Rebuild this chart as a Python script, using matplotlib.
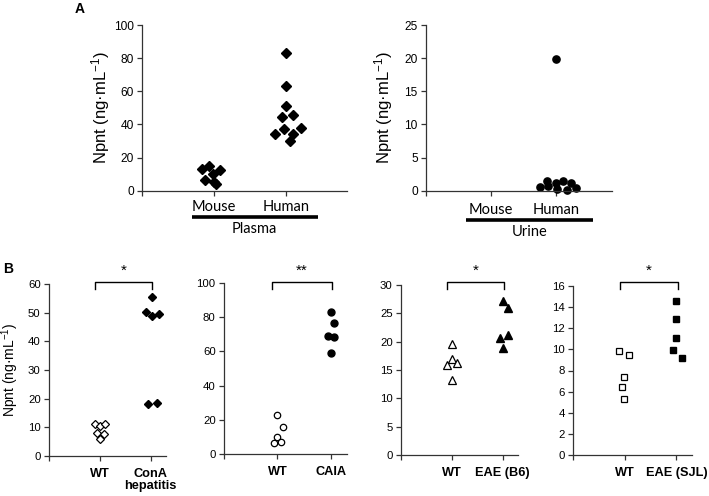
import matplotlib
matplotlib.use("Agg")
import matplotlib.pyplot as plt
import matplotlib.transforms as mtransforms

plt.rcParams['font.family'] = ['Liberation Sans', 'DejaVu Sans']
plt.rcParams['mathtext.default'] = 'regular'

# ---------------- data ----------------
ylabel = 'Npnt (ng·mL$^{-1}$)'

# Panel A, plasma
plasma_cats = ['Mouse', 'Human']
plasma_mouse = [12.9, 14.9, 12.5, 10.1, 6.4, 3.8, 5.4]
plasma_mouse_dx = [-0.167, -0.069, 0.083, -0.014, -0.12, 0.032, 0.0]
plasma_human = [82.9, 63.2, 51.1, 44.3, 45.9, 37.0, 37.6, 34.0, 34.0, 29.8]
plasma_human_dx = [0.0, 0.0, 0.0, -0.056, 0.097, -0.019, 0.204, -0.153, 0.102, 0.051]

# Panel A, urine
urine_cats = ['Mouse', 'Human']
urine_human = [19.9, 0.6, 1.5, 0.75, 1.1, 0.2, 1.46, 0.1, 1.1, 0.45]
urine_human_dx = [0.0, -0.25, -0.144, -0.128, 0.0, 0.01, 0.1, 0.164, 0.236, 0.313]

# Panel B
b1_cats = ['WT', 'ConA\nhepatitis']
b1_wt = [11.0, 10.5, 11.0, 8.0, 7.8, 6.0]
b1_wt_dx = [-0.1, 0.0, 0.11, -0.05, 0.08, 0.0]
b1_dis = [55.4, 50.2, 48.8, 49.5, 18.0, 18.6]
b1_dis_dx = [0.02, -0.1, 0.03, 0.17, -0.05, 0.12]

b2_cats = ['WT', 'CAIA']
b2_wt = [22.6, 16.0, 9.7, 6.2, 6.8]
b2_wt_dx = [0.0, 0.105, 0.0, -0.056, 0.062]
b2_dis = [83.3, 76.9, 68.9, 68.3, 59.1]
b2_dis_dx = [0.0, 0.062, -0.05, 0.062, 0.006]

b3_cats = ['WT', 'EAE (B6)']
b3_wt = [19.6, 16.9, 16.3, 15.8, 13.3]
b3_wt_dx = [0.0, 0.0, 0.1, -0.1, 0.0]
b3_dis = [27.1, 25.9, 20.6, 21.1, 18.9]
b3_dis_dx = [0.0, 0.1, -0.06, 0.1, 0.0]

b4_cats = ['WT', 'EAE (SJL)']
b4_wt = [9.84, 9.49, 7.4, 6.4, 5.28]
b4_wt_dx = [-0.11, 0.09, -0.01, -0.06, -0.01]
b4_dis = [14.6, 12.9, 11.1, 9.9, 9.2]
b4_dis_dx = [0.0, 0.0, 0.0, -0.06, 0.1]

b_stars = ['*', '**', '*', '*']

# ---------------- figure ----------------
W, H = 709, 496
fig = plt.figure(figsize=(W / 100, H / 100), dpi=100)
AX_COLOR = '#333333'


def add_ax(l, r, t, b):
    return fig.add_axes([l / W, 1 - b / H, (r - l) / W, (b - t) / H])


def style(ax, ylim, yticks, xmax, fs):
    ax.set_ylim(*ylim)
    ax.set_yticks(yticks)
    ax.set_xlim(0, xmax)
    for s in ('top', 'right'):
        ax.spines[s].set_visible(False)
    for s in ('left', 'bottom'):
        ax.spines[s].set_color(AX_COLOR)
        ax.spines[s].set_linewidth(0.9)
    ax.tick_params(axis='both', direction='out', length=3.5, width=0.9,
                   color=AX_COLOR, labelsize=fs, labelcolor='black')
    ax.tick_params(axis='y', pad=2.5)
    ax.patch.set_alpha(0)


def pts(ax, cat_x, vals, dx, **kw):
    ax.plot([cat_x + d for d in dx], vals, linestyle='none', clip_on=False, **kw)


YL_FS = 12

# ---- Panel A left: plasma ----
axA1 = add_ax(142, 347, 25, 190.7)
style(axA1, (0, 100), range(0, 101, 20), 2.85, 8.6)
pts(axA1, 1, plasma_mouse, plasma_mouse_dx, marker='D', ms=4.6, color='black')
pts(axA1, 2, plasma_human, plasma_human_dx, marker='D', ms=4.6, color='black')
axA1.set_xticks([0, 1, 2])
axA1.set_xticklabels([''] + plasma_cats, family='Lato', fontsize=10.5)
axA1.tick_params(axis='x', pad=3.5)
axA1.set_ylabel(ylabel, fontsize=YL_FS)
axA1.yaxis.set_label_coords(-30 / 205, 0.5)
trA1 = mtransforms.blended_transform_factory(axA1.transData, axA1.transAxes)
axA1.plot([0.69, 2.44], [-0.157, -0.157], transform=trA1, color='black', lw=2.6,
          clip_on=False, solid_capstyle='butt')
axA1.text(1.565, -0.232, 'Plasma', transform=trA1, ha='center', va='center',
          family='Lato', fontsize=10.5)

# ---- Panel A right: urine ----
axA2 = add_ax(426, 612, 25, 190.7)
style(axA2, (0, 25), range(0, 26, 5), 2.86, 8.6)
pts(axA2, 2, urine_human, urine_human_dx, marker='o', ms=5.2, color='black')
axA2.set_xticks([0, 1, 2])
axA2.set_xticklabels([''] + urine_cats, family='Lato', fontsize=10.5)
axA2.tick_params(axis='x', pad=5)
axA2.set_ylabel(ylabel, fontsize=YL_FS)
axA2.yaxis.set_label_coords(-31 / 186, 0.5)
trA2 = mtransforms.blended_transform_factory(axA2.transData, axA2.transAxes)
axA2.plot([0.615, 2.57], [-0.177, -0.177], transform=trA2, color='black', lw=2.6,
          clip_on=False, solid_capstyle='butt')
axA2.text(1.59, -0.25, 'Urine', transform=trA2, ha='center', va='center',
          family='Lato', fontsize=10.5)

# ---- Panel B ----
b_specs = [
    ((49, 166, 284, 456), (0, 60), range(0, 61, 10), b1_cats, b1_wt, b1_wt_dx, b1_dis, b1_dis_dx,
     dict(marker='D', ms=4.2, mfc='white', mec='black', mew=0.9),
     dict(marker='D', ms=3.6, color='black')),
    ((224, 347, 283, 454), (0, 100), range(0, 101, 20), b2_cats, b2_wt, b2_wt_dx, b2_dis, b2_dis_dx,
     dict(marker='o', ms=4.6, mfc='white', mec='black', mew=0.9),
     dict(marker='o', ms=5.0, color='black')),
    ((401, 518, 285, 455), (0, 30), range(0, 31, 5), b3_cats, b3_wt, b3_wt_dx, b3_dis, b3_dis_dx,
     dict(marker='^', ms=6.0, mfc='white', mec='black', mew=0.9),
     dict(marker='^', ms=6.0, color='black')),
    ((573, 692, 286, 455), (0, 16), range(0, 17, 2), b4_cats, b4_wt, b4_wt_dx, b4_dis, b4_dis_dx,
     dict(marker='s', ms=4.4, mfc='white', mec='black', mew=0.9),
     dict(marker='s', ms=4.8, color='black')),
]

for i, (box, ylim, yt, cats, wt, wtdx, dis, disdx, wkw, dkw) in enumerate(b_specs):
    l, r, t, b = box
    ax = add_ax(l, r, t, b)
    style(ax, ylim, yt, 2.3, 8.2)
    pts(ax, 1, wt, wtdx, **wkw)
    pts(ax, 2, dis, disdx, **dkw)
    ax.set_xticks([0, 1, 2])
    ax.set_xticklabels([''] + cats, fontweight='bold', fontsize=9.2,
                       linespacing=1.0, va='top')
    ax.tick_params(axis='x', pad=5)
    if i == 0:
        ax.set_ylabel(ylabel, fontsize=10)
        ax.yaxis.set_label_coords(-28 / (r - l), 0.5)
    tr = mtransforms.blended_transform_factory(ax.transData, ax.transAxes)
    h = b - t
    top = (b - 281.5) / h
    bot = (b - 289) / h
    x0, x1 = 0.9, 2.02
    ax.plot([x0, x0, x1, x1], [bot, top, top, bot], transform=tr, color='black',
            lw=1.0, clip_on=False)
    ax.text((x0 + x1) / 2, (b - 271) / h, b_stars[i], transform=tr, ha='center',
            va='center', fontsize=11)

fig.text(80 / W, 1 - 9 / H, 'A', fontweight='bold', fontsize=10, ha='center', va='center')
fig.text(8 / W, 1 - 269 / H, 'B', fontweight='bold', fontsize=10, ha='center', va='center')

fig.savefig('out.png', dpi=100)
